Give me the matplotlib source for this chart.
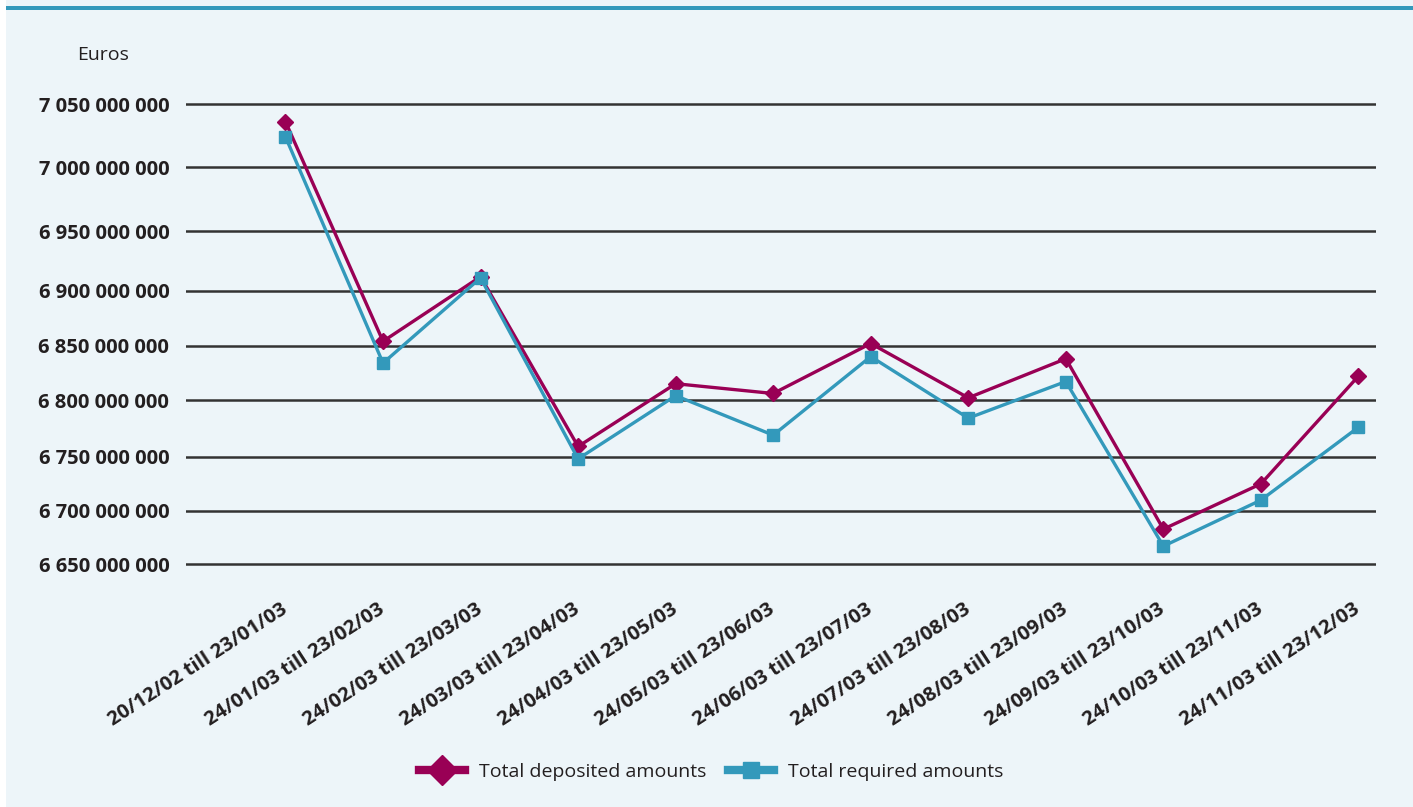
import numpy as np
import matplotlib.pyplot as plt
from matplotlib.lines import Line2D
from matplotlib.patches import Rectangle

plt.rcParams['font.family'] = ['Open Sans', 'DejaVu Sans']

periods = [
    '20/12/02 till 23/01/03', '24/01/03 till 23/02/03', '24/02/03 till 23/03/03',
    '24/03/03 till 23/04/03', '24/04/03 till 23/05/03', '24/05/03 till 23/06/03',
    '24/06/03 till 23/07/03', '24/07/03 till 23/08/03', '24/08/03 till 23/09/03',
    '24/09/03 till 23/10/03', '24/10/03 till 23/11/03', '24/11/03 till 23/12/03',
]
deposited = [7_036_000_000, 6_854_000_000, 6_912_000_000, 6_759_000_000,
             6_815_000_000, 6_806_000_000, 6_852_000_000, 6_802_000_000,
             6_838_000_000, 6_683_000_000, 6_725_000_000, 6_822_000_000]
required = [7_024_000_000, 6_834_000_000, 6_911_000_000, 6_748_000_000,
            6_804_000_000, 6_769_000_000, 6_840_000_000, 6_784_000_000,
            6_817_000_000, 6_667_000_000, 6_710_000_000, 6_776_000_000]
y_ticks = [6_650_000_000, 6_700_000_000, 6_750_000_000, 6_800_000_000,
           6_850_000_000, 6_900_000_000, 6_950_000_000, 7_000_000_000,
           7_050_000_000]

W, H = 1413, 807
MAG = '#990055'
BLUE = '#3399bb'

# the original axis is not evenly spaced: pixel row of each gridline
scale_vals = np.array([6_600_000_000] + y_ticks + [7_100_000_000], dtype=float)
scale_px = np.array([618.3, 564.3, 511, 456.7, 400, 345.7, 291, 231.3, 167.3, 104, 41])


def fwd(v):
    return -np.interp(v, scale_vals, scale_px)


def inv(u):
    return np.interp(u, -scale_px, scale_vals)


y_lo, y_hi = 6_620_000_000, 7_080_000_000
px_lo, px_hi = -fwd(y_lo), -fwd(y_hi)

fig = plt.figure(figsize=(W / 100, H / 100), dpi=100, facecolor='white')
fig.add_artist(Rectangle((6 / W, 0), 1, 1, transform=fig.transFigure,
                         facecolor='#edf5f9', edgecolor='none', zorder=0))
fig.add_artist(Rectangle((6 / W, 1 - 10 / H), 1, 4 / H, transform=fig.transFigure,
                         facecolor=BLUE, edgecolor='none', zorder=1))

ax = fig.add_axes([186 / W, 1 - px_lo / H, 1190 / W, (px_lo - px_hi) / H])
ax.set_facecolor('none')
ax.set_yscale('function', functions=(fwd, inv))
ax.set_ylim(y_lo, y_hi)
x = np.arange(len(periods))
ax.set_xlim(-1.02, 11.18)

ax.plot(x, deposited, color=MAG, lw=2.4, marker='D', ms=8.5, zorder=3)
ax.plot(x, required, color=BLUE, lw=2.4, marker='s', ms=8, zorder=4)

ax.set_yticks(y_ticks)
ax.set_yticklabels([f'{v:,}'.replace(',', ' ') for v in y_ticks],
                   fontsize=14.5, fontweight='bold', color='#231f20')
ax.yaxis.grid(True, color='#333333', lw=1.8)
ax.set_axisbelow(True)
ax.set_xticks(x)
ax.set_xticklabels(periods, rotation=33, ha='right', va='center',
                   rotation_mode='anchor', fontsize=14.5, fontweight='bold',
                   color='#231f20')
ax.tick_params(axis='both', length=0)
ax.tick_params(axis='y', pad=12)
ax.tick_params(axis='x', pad=8)
for s in ax.spines.values():
    s.set_visible(False)

fig.text(77 / W, 1 - 55 / H, 'Euros', fontsize=14, color='#231f20',
         ha='left', va='center')

handles = [
    Line2D([], [], color=MAG, lw=6, marker='D', ms=15),
    Line2D([], [], color=BLUE, lw=6, marker='s', ms=12),
]
fig.legend(handles, ['Total deposited amounts', 'Total required amounts'],
           loc='center', bbox_to_anchor=(711 / W, 1 - 772 / H), ncol=2,
           frameon=False, fontsize=14, handlelength=2.4, handletextpad=0.7,
           columnspacing=1.1, labelcolor='#231f20')

fig.savefig('out.png', dpi=100, facecolor=fig.get_facecolor())
